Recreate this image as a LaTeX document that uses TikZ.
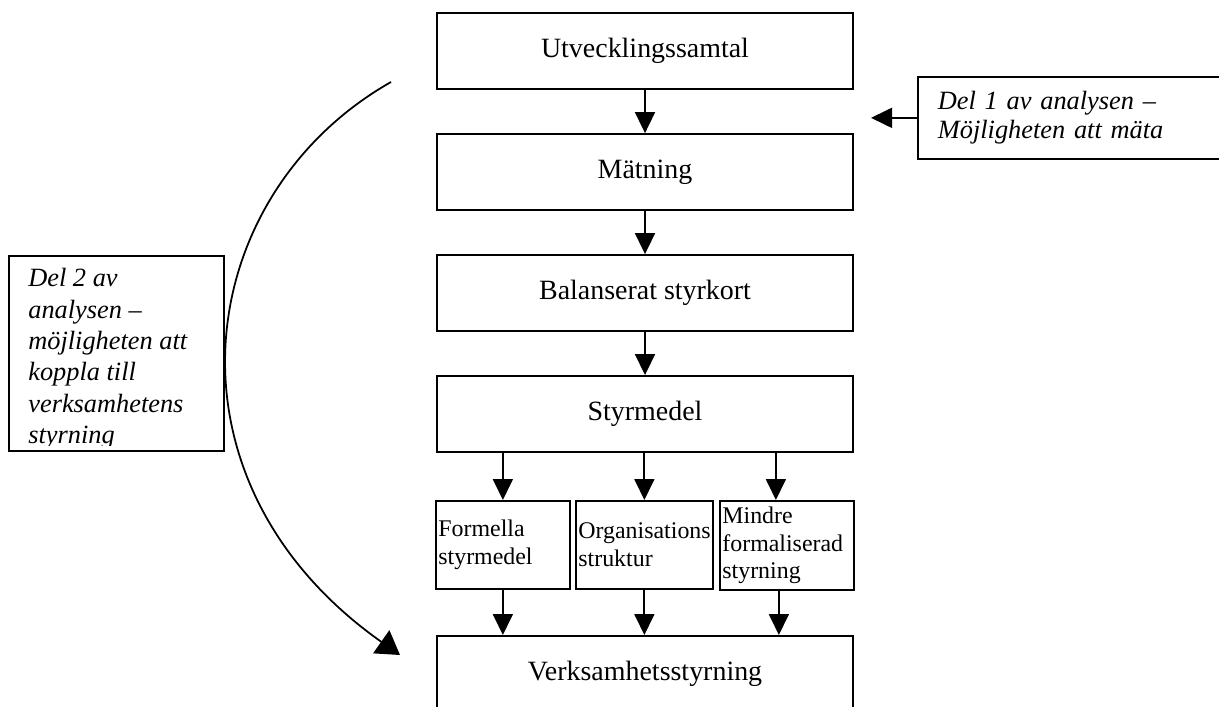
\documentclass[tikz,border=0pt]{standalone}
\usepackage{fontspec}
\setmainfont{Liberation Serif}
\usetikzlibrary{positioning,arrows.meta}
\tikzset{node distance=2.42cm,
  box/.style={draw,line width=1pt,minimum width=8.32cm,minimum height=1.52cm,font=\fontsize{15.9}{19}\selectfont},
  smallbox/.style={draw,line width=1pt,anchor=north west,align=left,inner xsep=0.05cm,font=\fontsize{13.6}{15.8}\selectfont,execute at begin node={\hyphenpenalty=10000\relax}},
  notebox/.style={draw,line width=1pt,anchor=north west,align=left,font=\fontsize{15}{16.6}\selectfont\itshape},
  arr/.style={line width=1pt,-{Triangle[length=0.42cm,width=0.4cm]}}}

\begin{document}
\begin{tikzpicture}[x=0.02cm,y=-0.02cm]
        \useasboundingbox (0,0) rectangle (1219,706);
        \clip (0,0) rectangle (1219,706);

        \node [box] (utv) at (645,51) {Utvecklingssamtal};
        \node [box] (matning) [below of=utv] {Mätning};
        \node [box] (bsc) [below of=matning] {Balanserat styrkort};
        \node [box] (styrmedel) [below of=bsc] {Styrmedel};
        \node [box] (verksamhet) [below of=styrmedel,node distance=5.2cm] {Verksamhetsstyrning};

        \node [smallbox,minimum height=1.76cm,text width=2.58cm] (formella) at (435,500) {Formella\\styrmedel};
        \node [smallbox,minimum height=1.76cm,text width=2.64cm] (org) at (575,500) {Organisations\\struktur};
        \node [smallbox,minimum height=1.72cm,text width=2.58cm] (mindre) at (719,500) {Mindre\\formaliserad\\styrning};

        \node [notebox,minimum height=1.64cm,inner xsep=0.4cm,text width=5.7cm] (del1) at (917,76) {Del 1 av analysen –\\Möjligheten att mäta};
        \node [draw,line width=1pt,anchor=north west,minimum width=4.3cm,minimum height=3.9cm] (del2) at (8,255) {};
        \begin{scope}
          \clip ([yshift=0.12cm]del2.south west) rectangle (del2.north east);
          \node [anchor=north west,inner sep=0pt,align=left,font=\fontsize{15}{17.9}\selectfont\itshape] (del2text) at ([xshift=0.4cm,yshift=-0.26cm]del2.north west) {Del 2 av\\analysen –\\möjligheten att\\koppla till\\verksamhetens\\styrning};
        \end{scope}

        \path (del1.west) ++(-0.92cm,0) coordinate (tip1);
        \coordinate (arcstart) at (391,82);
        \coordinate (arcend) at (400,655);

        \draw [arr] (utv) -- (matning);
        \draw [arr] (matning) -- (bsc);
        \draw [arr] (bsc) -- (styrmedel);
        \draw [arr] (formella.north |- styrmedel.south) -- (formella.north);
        \draw [arr] (org.north |- styrmedel.south) -- (org.north);
        \draw [arr] ([xshift=-0.22cm]mindre.north |- styrmedel.south) -- ([xshift=-0.22cm]mindre.north);
        \draw [arr] (formella.south) -- (formella.south |- verksamhet.north);
        \draw [arr] (org.south) -- (org.south |- verksamhet.north);
        \draw [arr] ([xshift=-0.16cm]mindre.south) -- ([xshift=-0.16cm]mindre.south |- verksamhet.north);
        \draw [arr] (del1.west) -- (tip1);
        \draw [arr,-{Triangle[length=0.46cm,width=0.56cm]}] (arcstart) .. controls (192,195) and (152,480) .. (arcend);
      \end{tikzpicture}
\end{document}
